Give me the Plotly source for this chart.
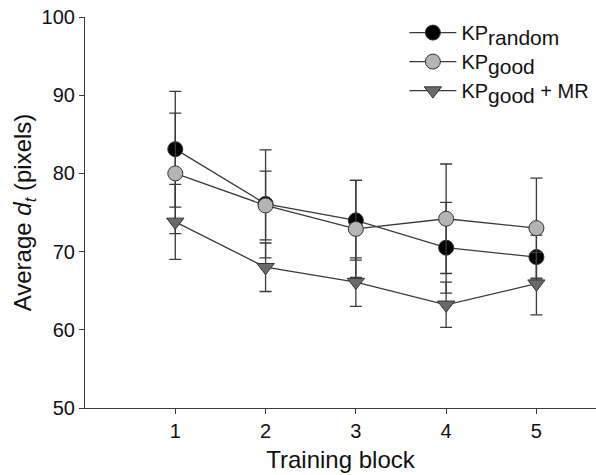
import plotly.graph_objects as go

blocks = [1, 2, 3, 4, 5]
kp_random = [83.1, 76.1, 74.0, 70.5, 69.3]
kp_random_err = [7.4, 6.9, 5.1, 5.8, 2.8]
kp_good = [80.0, 75.9, 72.9, 74.2, 73.0]
kp_good_err = [7.7, 4.4, 6.2, 7.0, 6.4]
kp_good_mr = [73.8, 68.0, 66.1, 63.2, 65.9]
kp_good_mr_err = [4.8, 3.1, 3.1, 2.9, 4.0]

SUB = "<sub><span style='font-size:21px'>{}</span></sub>"
names = ["KP" + SUB.format("random"), "KP" + SUB.format("good"),
         "KP" + SUB.format("good") + " + MR"]
series = [kp_random, kp_good, kp_good_mr]
errors = [kp_random_err, kp_good_err, kp_good_mr_err]
fills = ["#000000", "#b4b4b4", "#6a6a6a"]
symbols = ["circle", "circle", "triangle-down"]
sizes = [15, 15, 15]

LINE = "#3a3a3a"
fig = go.Figure()
for name, ys, err, fc, sym, sz in zip(names, series, errors, fills, symbols, sizes):
    fig.add_trace(go.Scatter(
        x=blocks, y=ys, name=name, mode="lines+markers",
        line=dict(color=LINE, width=1.3),
        marker=dict(symbol=sym, size=sz, color=fc, line=dict(color="#333333", width=1)),
        error_y=dict(type="data", array=err, visible=True, color=LINE, thickness=1.3, width=6),
    ))

font = dict(family="Liberation Sans, Arial, sans-serif", size=20, color="#111111")
fig.update_layout(
    width=596, height=475,
    margin=dict(l=85, r=0, t=17, b=67),
    paper_bgcolor="white", plot_bgcolor="white",
    font=font,
    showlegend=True,
    legend=dict(x=0.625, y=1.01, xanchor="left", yanchor="top", itemwidth=47,
                bgcolor="rgba(0,0,0,0)", font=dict(size=20), tracegroupgap=0),
    xaxis=dict(range=[0, 5.66], tickvals=blocks, ticks="outside", ticklen=5,
               tickcolor=LINE, showline=True, linecolor=LINE, linewidth=1.2,
               showgrid=False, zeroline=False,
               title=dict(text="Training block", standoff=10)),
    yaxis=dict(range=[50, 100], tickvals=[50, 60, 70, 80, 90, 100], ticks="outside",
               ticklen=5, tickcolor=LINE, showline=True, linecolor=LINE, linewidth=1.2,
               showgrid=False, zeroline=False,
               title=dict(text="Average <i>d</i><sub><i>t</i></sub> (pixels)", standoff=3)),
)
fig.write_html("out.html", config={"displayModeBar": False},
               post_script="document.body.style.margin='0px';")
